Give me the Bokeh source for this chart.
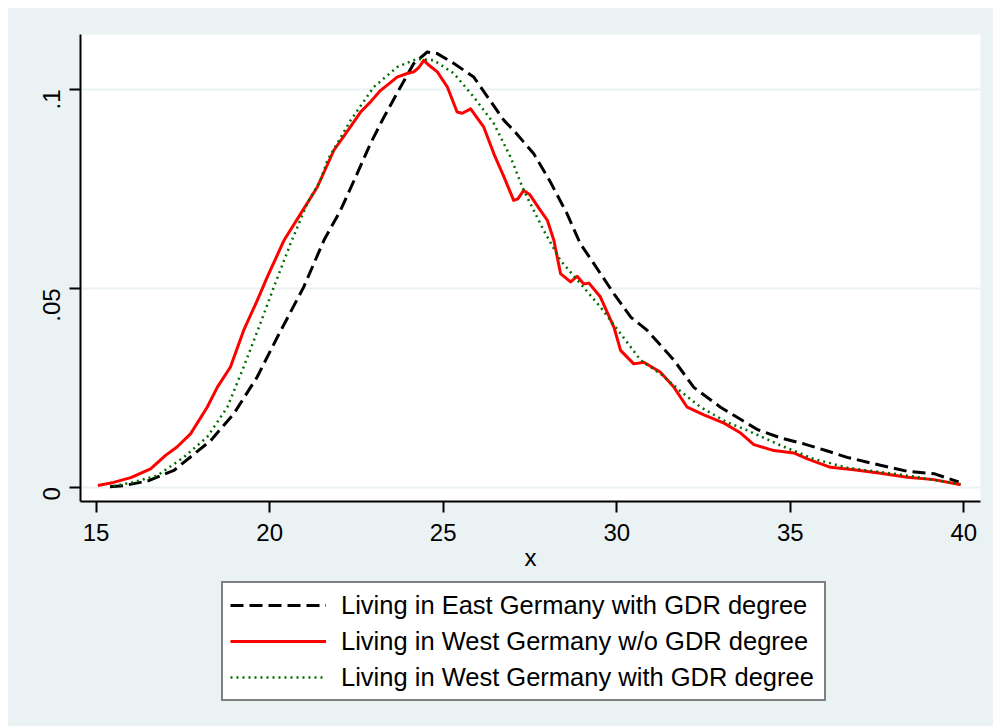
import math
from bokeh.plotting import figure
from bokeh.models import Range1d, Legend, LegendItem, FixedTicker, Spacer
from bokeh.layouts import column, row
from bokeh.embed import file_html
from bokeh.resources import INLINE

# --- data ---
east_x = [15.4, 15.8, 16.5, 17.24, 18.3, 18.97, 19.64, 20.22, 20.98, 21.56, 22.04, 22.52, 22.9,
          23.29, 23.77, 24.15, 24.54, 24.83, 25.31, 25.88, 26.35, 26.75, 27.03, 27.61, 28.09,
          28.57, 28.95, 29.34, 29.92, 30.41, 30.88, 31.65, 32.22, 32.99, 34.05, 34.72, 35.39,
          36.07, 36.64, 37.6, 38.37, 39.14, 39.85]
east_y = [0.0001, 0.0004, 0.0016, 0.0042, 0.0117, 0.0185, 0.0277, 0.0377, 0.0503, 0.062, 0.0696,
          0.0788, 0.0863, 0.093, 0.1006, 0.1065, 0.1094, 0.109, 0.1065, 0.1031, 0.0972, 0.0922,
          0.0897, 0.0838, 0.0767, 0.0687, 0.0612, 0.0562, 0.0486, 0.0427, 0.0394, 0.0319, 0.0251,
          0.0201, 0.0145, 0.0124, 0.0109, 0.0091, 0.0075, 0.0055, 0.004, 0.0034, 0.0013]

west_wo_x = [15.05, 15.5, 16.0, 16.57, 17.0, 17.33, 17.72, 18.2, 18.49, 18.87, 19.25, 19.64, 19.93,
             20.41, 20.89, 21.37, 21.85, 22.2, 22.62, 22.9, 23.19, 23.45, 23.67, 23.96, 24.15,
             24.3, 24.44, 24.6, 24.83, 25.12, 25.4, 25.55, 25.79, 26.17, 26.46, 26.75, 27.03,
             27.15, 27.32, 27.5, 27.8, 28.0, 28.19, 28.38, 28.67, 28.86, 29.05, 29.2, 29.53,
             29.92, 30.11, 30.49, 30.78, 31.26, 31.65, 32.03, 32.51, 33.09, 33.57, 33.95, 34.53,
             35.1, 35.49, 36.16, 36.83, 37.6, 38.37, 39.14, 39.91]
west_wo_y = [0.0004, 0.0012, 0.0024, 0.0046, 0.008, 0.0101, 0.0134, 0.0201, 0.0251, 0.0302, 0.0394,
             0.0469, 0.0528, 0.062, 0.0687, 0.0754, 0.0847, 0.089, 0.0943, 0.0968, 0.0997, 0.1015,
             0.1031, 0.104, 0.1044, 0.1055, 0.1073, 0.106, 0.1044, 0.1006, 0.0943, 0.094, 0.0951,
             0.0905, 0.0838, 0.078, 0.0721, 0.0725, 0.0746, 0.0735, 0.0696, 0.0671, 0.062, 0.0537,
             0.0516, 0.053, 0.0511, 0.0513, 0.0478, 0.0402, 0.0344, 0.031, 0.0314, 0.0289, 0.0251,
             0.0201, 0.0182, 0.0161, 0.0136, 0.0107, 0.0092, 0.0086, 0.0071, 0.005, 0.0044,
             0.0035, 0.0025, 0.0019, 0.0006]

west_with_x = [15.5, 16.0, 16.76, 17.52, 18.2, 18.78, 19.25, 19.73, 20.12, 20.6, 21.08, 21.46,
               21.66, 22.33, 23.0, 23.67, 24.25, 24.73, 25.31, 25.88, 26.46, 26.94, 27.32, 27.9,
               28.38, 28.96, 29.53, 30.11, 30.69, 31.26, 31.84, 32.42, 33.18, 33.76, 34.72, 35.68,
               36.64, 37.6, 38.56, 39.04, 39.9]
west_with_y = [0.0003, 0.0011, 0.0029, 0.0075, 0.0126, 0.0201, 0.0302, 0.0411, 0.0503, 0.0612,
               0.0713, 0.0771, 0.0821, 0.0922, 0.1006, 0.1056, 0.1077, 0.1073, 0.104, 0.0981,
               0.0914, 0.083, 0.0746, 0.0645, 0.057, 0.0511, 0.0453, 0.0386, 0.0319, 0.0285,
               0.0241, 0.0201, 0.0163, 0.0143, 0.0105, 0.0071, 0.0049, 0.0038, 0.0027, 0.0019,
               0.0008]

labels = ["Living in East Germany with GDR degree",
          "Living in West Germany w/o GDR degree",
          "Living in West Germany with GDR degree"]
x_ticks = [15, 20, 25, 30, 35, 40]
y_ticks = [0, 0.05, 0.1]
y_tick_labels = {0: "0", 0.05: ".05", 0.1: ".1"}

BG = "#EAF2F3"
FONT = "Liberation Sans"

styles = [dict(line_color="black", line_width=3, line_dash="13 6"),
          dict(line_color="#FF0000", line_width=3, line_join="round"),
          dict(line_color="#006E00", line_width=2.5, line_dash="2 4")]

p = figure(width=985, height=573, output_backend="svg", toolbar_location=None,
           x_range=Range1d(14.55, 40.48), y_range=Range1d(-0.0036, 0.1138),
           min_border_left=72, min_border_top=26, min_border_right=13, min_border_bottom=80)
p.border_fill_color = BG
p.background_fill_color = "white"
p.outline_line_color = None

p.xgrid.grid_line_color = None
p.ygrid.grid_line_color = BG
p.ygrid.grid_line_width = 2

p.xaxis.ticker = FixedTicker(ticks=x_ticks)
p.yaxis.ticker = FixedTicker(ticks=y_ticks)
p.yaxis.major_label_overrides = y_tick_labels
p.yaxis.major_label_orientation = math.pi / 2
for ax in (p.xaxis[0], p.yaxis[0]):
    ax.axis_line_color = "black"
    ax.axis_line_width = 2
    ax.major_tick_line_color = "black"
    ax.major_tick_line_width = 2
    ax.major_tick_out = 11
    ax.major_tick_in = 0
    ax.minor_tick_line_color = None
    ax.major_label_text_font = FONT
    ax.major_label_text_font_size = "24px"
    ax.major_label_text_color = "black"
    ax.axis_label_text_font = FONT
    ax.axis_label_text_font_size = "24px"
    ax.axis_label_text_font_style = "normal"
    ax.axis_label_text_color = "black"
p.xaxis.axis_label = "x"
p.xaxis.major_label_standoff = 11
p.xaxis.axis_label_standoff = 0
p.yaxis.major_label_standoff = 18

p.line(east_x, east_y, **styles[0])
p.line(west_wo_x, west_wo_y, **styles[1])
p.line(west_with_x, west_with_y, **styles[2])

# legend panel below the plot (a second figure holding only the legend)
q = figure(width=985, height=145, output_backend="svg", toolbar_location=None,
           x_range=Range1d(0, 1), y_range=Range1d(0, 1),
           x_axis_location=None, y_axis_location=None,
           min_border_left=72, min_border_right=13, min_border_top=0, min_border_bottom=0)
q.border_fill_color = BG
q.background_fill_color = BG
q.outline_line_color = None
q.grid.visible = False
# key renderers kept outside the visible range: only their legend swatches show
lr = [q.line([-5, -4], [-5, -5], **s) for s in styles]

legend = Legend(items=[LegendItem(label=labels[i], renderers=[lr[i]]) for i in range(3)],
                location=(141, 25), orientation="vertical")
legend.label_text_font = FONT
legend.label_text_font_size = "25.5px"
legend.label_text_color = "black"
legend.label_height = 30
legend.label_width = 476
legend.glyph_height = 30
legend.glyph_width = 96
legend.label_standoff = 15
legend.spacing = 6
legend.padding = 7
legend.margin = 0
legend.border_line_color = "black"
legend.border_line_width = 2
legend.background_fill_color = "white"
legend.background_fill_alpha = 1
q.add_layout(legend, "center")

inner = column(p, q)
inner.background = BG
layout = column(Spacer(height=8, width=993), row(Spacer(width=8, height=718), inner))
layout.background = "white"

open("out.html", "w").write(file_html(layout, INLINE))
